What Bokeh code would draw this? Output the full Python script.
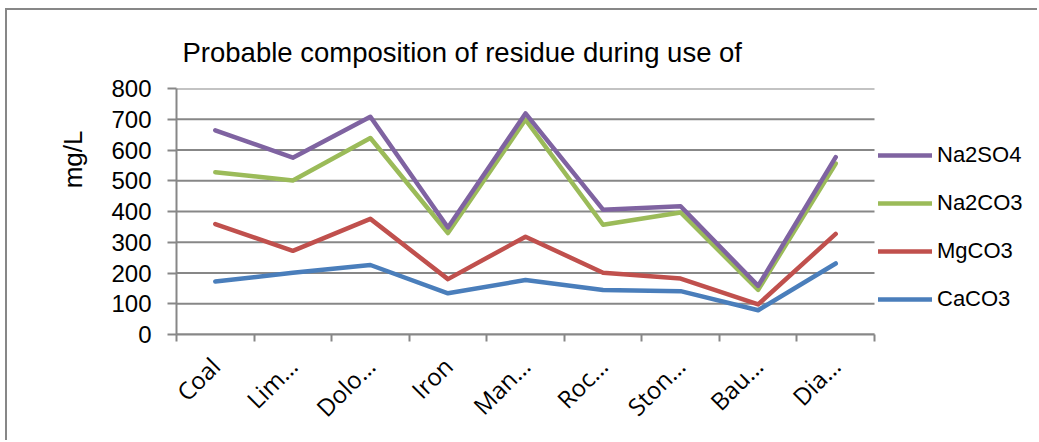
from math import pi
from bokeh.plotting import figure
from bokeh.models import (Range1d, FixedTicker, Legend, LegendItem, LinearAxis, Title, Spacer)
from bokeh.layouts import column, row
from bokeh.embed import file_html
from bokeh.resources import INLINE

categories = ["Coal", "Lim…", "Dolo…", "Iron", "Man…", "Roc…", "Ston…", "Bau…", "Dia…"]
na2so4 = [664, 575, 708, 348, 719, 406, 417, 158, 577]
na2co3 = [528, 501, 639, 330, 699, 357, 397, 145, 556]
mgco3 = [359, 272, 376, 180, 318, 201, 182, 98, 327]
caco3 = [172, 201, 226, 134, 177, 145, 141, 79, 231]
y_ticks = [0, 100, 200, 300, 400, 500, 600, 700, 800]
title_text = "Probable  composition of residue during use of"
y_label = "mg/L"

GRID = "#878787"
n = len(categories)
xs = [i + 0.5 for i in range(n)]

# plot area: data part 698px wide, frame extends to the right edge (legend area)
FRAME_W = 863
DATA_W = 698
x_end = n * FRAME_W / DATA_W

p = figure(width=1032, height=432, output_backend="svg", toolbar_location=None,
           x_range=Range1d(0, x_end), y_range=Range1d(0, 800),
           min_border_left=169, min_border_right=0, min_border_top=78,
           min_border_bottom=108, x_axis_type=None)
p.styles = {"border-top": "2px solid #878787", "border-left": "2px solid #878787"}
p.outline_line_color = None
p.background_fill_color = "white"
p.border_fill_color = "white"

p.title.text = title_text
p.title.text_font = "Liberation Sans"
p.title.text_font_size = "27.5px"
p.title.text_font_style = "normal"
p.title.text_color = "#000000"
p.title.align = "left"
p.title.offset = 6
p.title.standoff = 42

# x axis
xaxis = LinearAxis(ticker=FixedTicker(ticks=xs, minor_ticks=list(range(n + 1))), bounds=(0, n))
xaxis.major_label_overrides = {x: c for x, c in zip(xs, categories)}
xaxis.major_label_orientation = pi / 4
xaxis.major_label_text_font = "Open Sans"
xaxis.major_label_text_font_size = "24px"
xaxis.major_label_text_color = "#000000"
xaxis.major_label_standoff = 20
xaxis.major_tick_out = 0
xaxis.major_tick_in = 0
xaxis.minor_tick_out = 7
xaxis.minor_tick_in = 0
xaxis.minor_tick_line_color = GRID
xaxis.minor_tick_line_width = 2
xaxis.axis_line_color = GRID
xaxis.axis_line_width = 2
p.add_layout(xaxis, "below")

# y axis
ya = p.yaxis[0]
ya.ticker = FixedTicker(ticks=y_ticks)
ya.minor_tick_line_color = None
ya.major_tick_out = 9
ya.major_tick_in = 0
ya.major_tick_line_color = GRID
ya.major_tick_line_width = 2
ya.axis_line_color = GRID
ya.axis_line_width = 2
ya.major_label_text_font = "Liberation Sans"
ya.major_label_text_font_size = "24px"
ya.major_label_text_color = "#000000"
ya.major_label_standoff = 16

ylab = Title(text=y_label, align="right", offset=42, vertical_align="bottom",
             standoff=42, text_font="Liberation Sans", text_font_size="26px",
             text_font_style="normal", text_color="#000000")
p.add_layout(ylab, "left")

# horizontal gridlines over the data part only
p.xgrid.visible = False
p.ygrid.visible = False
p.segment(x0=[0] * len(y_ticks), x1=[n] * len(y_ticks), y0=y_ticks, y1=y_ticks,
          line_color=GRID, line_width=2)

series = [
    ("Na2SO4", na2so4, "#7F63A1"),
    ("Na2CO3", na2co3, "#9BBB59"),
    ("MgCO3", mgco3, "#C0504D"),
    ("CaCO3", caco3, "#4A7EBB"),
]
renderers = {}
for name, vals, col in reversed(series):
    r = p.line(xs, vals, line_color=col, line_width=4.5, line_join="round", line_cap="round")
    renderers[name] = r

legend = Legend(items=[LegendItem(label=nm, renderers=[renderers[nm]]) for nm, _, _ in series],
                location=(DATA_W + 4, 22), orientation="vertical")
legend.glyph_width = 54
legend.glyph_height = 26
legend.label_height = 26
legend.spacing = 22
legend.padding = 0
legend.margin = 0
legend.label_standoff = 5
legend.border_line_color = None
legend.background_fill_alpha = 0
legend.label_text_font = "Liberation Sans"
legend.label_text_font_size = "22px"
legend.label_text_color = "#000000"
p.add_layout(legend, "center")

layout = column(Spacer(height=8), row(Spacer(width=5), p))
open("out.html", "w").write(file_html(layout, INLINE))
